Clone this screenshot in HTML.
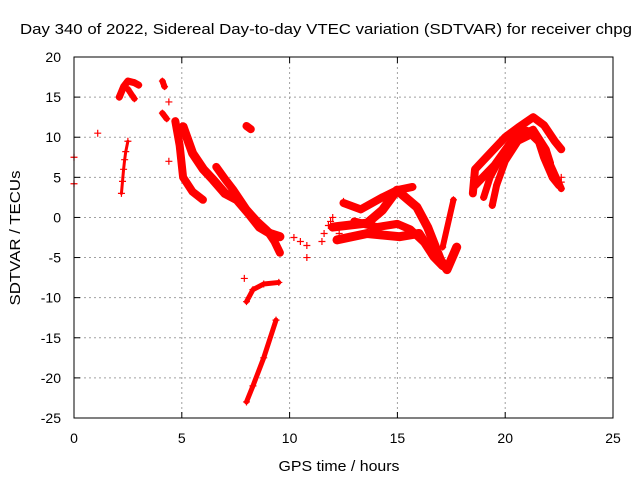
<!DOCTYPE html>
<html><head><meta charset="utf-8">
<style>
body{margin:0;background:#fff;}
svg{display:block;font-family:"Liberation Sans",sans-serif;}
</style></head>
<body>
<svg id="chart" width="640" height="480">
<text x="326" y="34" font-size="15" text-anchor="middle" textLength="612" lengthAdjust="spacingAndGlyphs">Day 340 of 2022, Sidereal Day-to-day VTEC variation (SDTVAR) for receiver chpg</text>
<text x="339" y="471" font-size="15" text-anchor="middle" textLength="121" lengthAdjust="spacingAndGlyphs">GPS time / hours</text>
<text transform="translate(20,238) rotate(-90)" font-size="15" text-anchor="middle" textLength="135" lengthAdjust="spacingAndGlyphs">SDTVAR / TECUs</text>
<g id="grid"></g>
<g id="ticks"></g>
<g id="marks"></g>
<rect x="74" y="57" width="539" height="361" fill="none" stroke="#000" stroke-width="1"/>
</svg>
<script>
const xTicks=[0,5,10,15,20,25];
const yTicks=[20,15,10,5,0,-5,-10,-15,-20,-25];
// tracks: [time(hours), sdtvar(TECU)] pairs
const trackA=[[2.2,3],[2.25,4.5],[2.3,6],[2.35,7.2],[2.4,8.2],[2.5,9.5]];
const trackB=[[2.1,15],[2.3,16.3],[2.5,17],[2.8,16.8],[3.0,16.5]];
const trackB2=[[2.5,16],[2.7,15.2],[2.8,14.8]];
const trackC=[[4.1,17],[4.2,16.3]];
const trackC2=[[4.1,13],[4.3,12.3]];
const trackD1=[[4.7,12],[4.9,9],[5.06,5],[5.5,3.2],[5.98,2.2]];
const trackD2=[[5.06,11.3],[5.5,8],[6.0,6],[6.45,4.7],[7.0,3],[7.56,2.2],[8.1,0.5],[8.6,-1.2],[9.1,-2],[9.55,-2.4]];
const trackD3=[[6.6,6.3],[7.0,4.8],[7.4,3.4],[8.0,1],[8.5,-0.5],[8.95,-1.6],[9.3,-3],[9.55,-4.4]];
const trackE=[[8.0,11.4],[8.2,11]];
const trackF=[[8.0,-10.5],[8.3,-9],[8.8,-8.3],[9.5,-8.1]];
const trackG=[[8.0,-23],[8.3,-21],[8.8,-17.5],[9.37,-12.8]];
const trackM1=[[12.5,1.8],[13.3,1],[14.3,2.5],[14.98,3.4],[15.7,3.8]];
const trackM2=[[12.0,-1.2],[13.6,-0.7],[14.3,0.9],[14.98,3.4],[15.9,1.3],[16.4,-1.2],[17.0,-5.3],[17.3,-6.5],[17.75,-3.7]];
const trackM3=[[12.2,-2.8],[13.6,-2],[15.1,-2.4],[16.0,-2],[16.7,-4.9],[17.1,-6]];
const trackM4=[[13.0,-0.5],[14.05,-1.2],[15.0,-0.8],[15.6,-1.5],[16.2,-3]];
const trackM5=[[17.1,-3.7],[17.6,2.2]];
const trackR1=[[18.5,3],[18.6,6],[19.3,8],[20,10],[20.6,11.2],[21.3,12.5],[21.8,11.5],[22.3,9.5],[22.6,8.5]];
const trackR2=[[18.6,4],[19.5,6.5],[20.3,9.5],[21,10.8],[21.5,10],[21.8,7.5],[22.2,5],[22.5,4]];
const trackR3=[[19.4,1.5],[19.6,4],[20,7],[20.6,9.5],[21.2,10.3],[21.7,9],[22.2,6],[22.6,3.6]];
const trackR4=[[19.0,2.5],[19.3,5],[19.8,7.5],[20.5,10],[21.3,11],[21.9,8.5],[22.1,6.8]];
const scattered=[[0,7.5],[0,4.2],[1.1,10.5],[4.4,14.4],[4.4,7],[7.9,-7.6],[10.2,-2.5],[10.5,-3],[10.8,-5],[10.8,-3.5],[11.5,-3],[11.6,-2],[11.8,-1],[12.0,0],[12.3,-2],[12.5,2],[12.8,1.5],[11.9,-0.5],[22.6,5],[22.6,4.4]];
const tracks=[trackA,trackB,trackB2,trackC,trackC2,trackD1,trackD2,trackD3,trackE,trackF,trackG,trackM1,trackM2,trackM3,trackM4,trackM5,trackR1,trackR2,trackR3,trackR4];
const trackWidths=[3,7,6,6,6,8,9,8,8,5,5,8,9,9,8,6,8,8,7,7];

const X0=74,X1=613,Y0=418,Y1=57,xMin=0,xMax=25,yMin=-25,yMax=20;
const sx=t=>X0+(t-xMin)/(xMax-xMin)*(X1-X0);
const sy=v=>Y0-(v-yMin)/(yMax-yMin)*(Y0-Y1);
const NS="http://www.w3.org/2000/svg";
const grid=document.getElementById('grid'),ticks=document.getElementById('ticks'),marks=document.getElementById('marks');
function mk(tag,attrs,parent){const e=document.createElementNS(NS,tag);for(const k in attrs)e.setAttribute(k,attrs[k]);parent.appendChild(e);return e;}
xTicks.forEach(t=>{
  const x=sx(t);
  if(t>xMin&&t<xMax){const g=mk('line',{x1:x,x2:x,y1:Y1,y2:Y0,stroke:'#a0a0a0','stroke-dasharray':'2,3'},grid);
  
  }
  mk('line',{x1:x,x2:x,y1:Y0,y2:Y0-6,stroke:'#000'},ticks);
  mk('line',{x1:x,x2:x,y1:Y1,y2:Y1+6,stroke:'#000'},ticks);
  const l=mk('text',{x:x,y:443,'font-size':14,'text-anchor':'middle'},ticks);l.textContent=t;
  
  
});
yTicks.forEach(v=>{
  const y=sy(v);
  if(v>yMin&&v<yMax){const g=mk('line',{x1:X0,x2:X1,y1:y,y2:y,stroke:'#a0a0a0','stroke-dasharray':'2,3'},grid);
  
  }
  mk('line',{x1:X0,x2:X0+6,y1:y,y2:y,stroke:'#000'},ticks);
  mk('line',{x1:X1,x2:X1-6,y1:y,y2:y,stroke:'#000'},ticks);
  const l=mk('text',{x:61,y:y+5,'font-size':14,'text-anchor':'end'},ticks);l.textContent=v;
  
  
});
function plus(t,v){
  const x=sx(t),y=sy(v);
  const p=mk('path',{d:`M${x-3.5},${y}H${x+3.5}M${x},${y-3.5}V${y+3.5}`,stroke:'#ff0000','stroke-width':1.2,fill:'none'},marks);
  
  
}
tracks.forEach((tr,i)=>{
  const pl=mk('polyline',{points:tr.map(p=>sx(p[0])+','+sy(p[1])).join(' '),fill:'none',stroke:'#ff0000','stroke-width':trackWidths[i],'stroke-linecap':'round','stroke-linejoin':'round'},marks);
  
  
  tr.forEach(p=>plus(p[0],p[1]));
});
scattered.forEach(p=>plus(p[0],p[1]));
</script>
</body></html>
